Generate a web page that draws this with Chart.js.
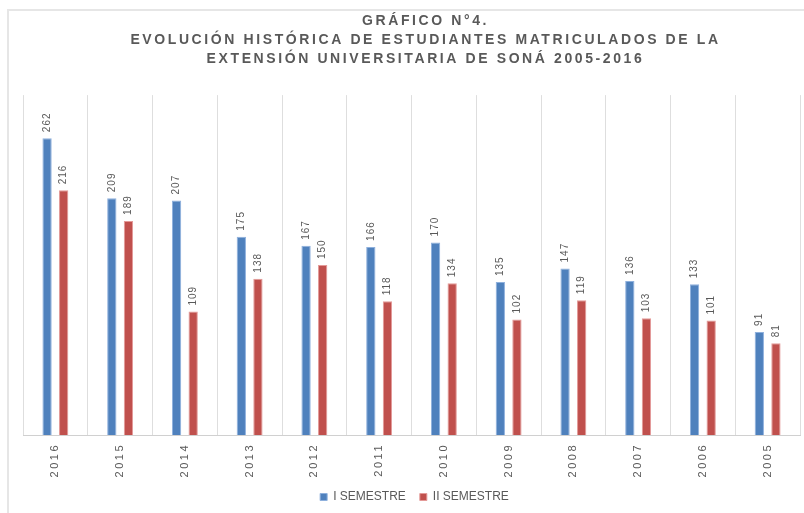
<!DOCTYPE html>
<html>
<head>
<meta charset="utf-8">
<script src="https://cdn.jsdelivr.net/npm/chart.js@4/dist/chart.umd.min.js"></script>
<style>
  html, body { margin: 0; padding: 0; background: #ffffff; overflow: hidden; width: 804px; height: 513px; }
  #frame { position: absolute; left: 7px; top: 9px; width: 816px; height: 502px; border: 2px solid #e6e6e6; background: #fff; }
  #c { display: block; }
</style>
</head>
<body>
<div id="frame"><canvas id="c" width="816" height="502"></canvas></div>
<script>
const titleLines = [
  "GRÁFICO N°4.",
  "EVOLUCIÓN HISTÓRICA DE ESTUDIANTES MATRICULADOS DE LA",
  "EXTENSIÓN UNIVERSITARIA DE SONÁ 2005-2016"
];
const years = ["2016", "2015", "2014", "2013", "2012", "2011", "2010", "2009", "2008", "2007", "2006", "2005"];
const semestre1 = [262, 209, 207, 175, 167, 166, 170, 135, 147, 136, 133, 91];
const semestre2 = [216, 189, 109, 138, 150, 118, 134, 102, 119, 103, 101, 81];
const seriesNames = ["I SEMESTRE", "II SEMESTRE"];
const yTicks = { min: 0, max: 300 };

const textColor = "#595959";

const spacingPlugin = {
  id: "spacing",
  beforeDraw(chart) {
    const tb = chart.titleBlock;
    if (tb && !tb._wrapped) {
      const orig = tb.draw.bind(tb);
      tb.draw = function () {
        const ctx = chart.ctx;
        ctx.save();
        ctx.letterSpacing = "2.6px";
        ctx.translate(14, 1);
        orig();
        ctx.restore();
      };
      tb._wrapped = true;
    }
    const xs = chart.scales.x;
    if (xs && !xs._wrapped) {
      const origL = xs.drawLabels.bind(xs);
      xs.drawLabels = function (area) {
        const ctx = chart.ctx;
        ctx.save();
        ctx.letterSpacing = "2.5px";
        origL(area);
        ctx.restore();
      };
      xs._wrapped = true;
    }
    const lg = chart.legend;
    if (lg && !lg._wrapped) {
      const origD = lg.draw.bind(lg);
      lg.draw = function () {
        const ctx = chart.ctx;
        ctx.save();
        ctx.translate(3, 0);
        origD();
        ctx.restore();
      };
      lg._wrapped = true;
    }
  }
};

const valueLabels = {
  id: "valueLabels",
  afterDatasetsDraw(chart) {
    const ctx = chart.ctx;
    chart.data.datasets.forEach((ds, i) => {
      const meta = chart.getDatasetMeta(i);
      meta.data.forEach((bar, j) => {
        ctx.save();
        ctx.translate(bar.x, bar.y - 6);
        ctx.rotate(-Math.PI / 2);
        ctx.font = "10px 'Liberation Sans', Arial, sans-serif";
        ctx.letterSpacing = "1px";
        ctx.fillStyle = textColor;
        ctx.textAlign = "left";
        ctx.textBaseline = "middle";
        ctx.fillText(String(ds.data[j]), 0, 0);
        ctx.restore();
      });
    });
  }
};

new Chart(document.getElementById("c"), {
  type: "bar",
  data: {
    labels: years,
    datasets: [
      {
        label: seriesNames[0],
        data: semestre1,
        backgroundColor: "#4f81bd",
        borderColor: "#8eb0dd",
        borderWidth: 1,
        categoryPercentage: 0.513,
        barPercentage: 0.56
      },
      {
        label: seriesNames[1],
        data: semestre2,
        backgroundColor: "#c0504d",
        borderColor: "#e49a98",
        borderWidth: 1,
        categoryPercentage: 0.513,
        barPercentage: 0.56
      }
    ]
  },
  options: {
    responsive: false,
    animation: false,
    devicePixelRatio: 1,
    layout: { padding: { left: 14, right: 25, top: 0, bottom: 0 } },
    plugins: {
      tooltip: { enabled: false },
      title: {
        display: true,
        text: titleLines,
        color: textColor,
        font: { family: "'Liberation Sans Narrow', 'Liberation Sans', Arial, sans-serif", size: 14, weight: "bold", lineHeight: 1.36 },
        padding: { top: 0, bottom: 27 }
      },
      legend: {
        display: true,
        position: "bottom",
        labels: {
          color: textColor,
          boxWidth: 7,
          boxHeight: 7,
          padding: 14,
          font: { family: "'Liberation Sans Narrow', 'Liberation Sans', Arial, sans-serif", size: 12 }
        }
      }
    },
    scales: {
      x: {
        offset: true,
        grid: { display: true, offset: true, color: "#dedede", lineWidth: 1, drawTicks: false },
        border: { display: true, color: "#d0d0d0", width: 1 },
        ticks: {
          color: textColor,
          minRotation: 90,
          maxRotation: 90,
          padding: 8,
          font: { family: "'Liberation Sans', Arial, sans-serif", size: 11 }
        },
        afterFit(s) { s.height = 42; }
      },
      y: {
        display: false,
        min: yTicks.min,
        max: yTicks.max
      }
    }
  },
  plugins: [spacingPlugin, valueLabels]
});
</script>
</body>
</html>
